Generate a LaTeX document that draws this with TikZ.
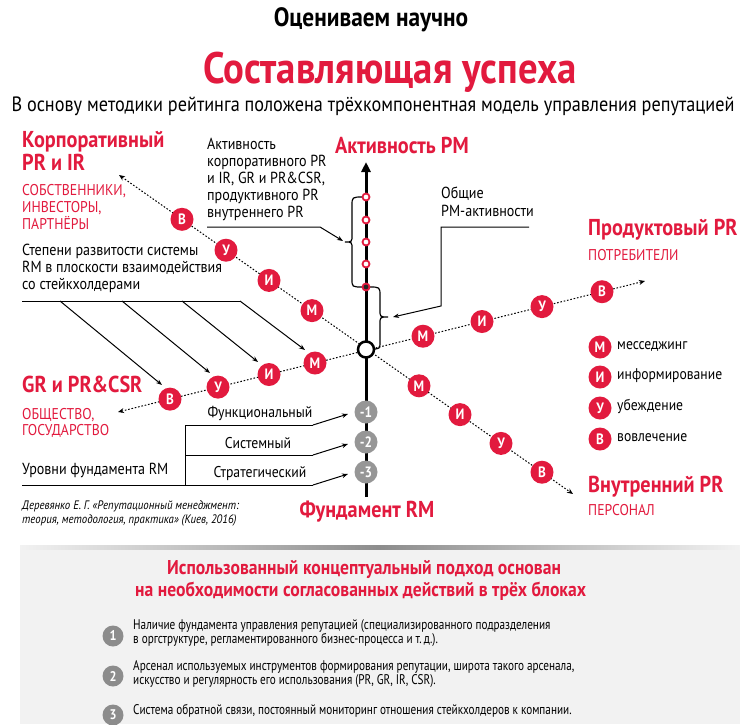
\documentclass[tikz,border=0pt]{standalone}
\usepackage{fontspec}
\setmainfont{PT Sans}[FakeStretch=0.88]
\newfontfamily\narrowfont{PT Sans}[FakeStretch=0.8]
\usetikzlibrary{arrows.meta}
\definecolor{myred}{RGB}{226,26,62}
\definecolor{mygray}{RGB}{150,150,150}
\definecolor{panelbg}{RGB}{242,242,242}
\definecolor{numgray}{RGB}{140,140,140}
\begin{document}
\begin{tikzpicture}[x=1pt,y=-1pt,
  lbl/.style={inner sep=0pt, anchor=mid west, font=\fontsize{16}{18}\selectfont},
  rhead/.style={inner sep=0pt, text=myred, font=\bfseries\fontsize{23}{24}\selectfont},
  rsub/.style={inner sep=0pt, anchor=mid west, text=myred, font=\fontsize{15.6}{18}\selectfont},
  mc/.style={circle, fill=myred, inner sep=0pt, minimum size=23pt, text=white, font=\bfseries\fontsize{15}{15}\selectfont},
  gc/.style={circle, fill=mygray, inner sep=0pt, minimum size=23pt, text=white, font=\bfseries\fontsize{15}{15}\selectfont},
  nc/.style={circle, fill=numgray, inner sep=0pt, minimum size=21pt, text=white, font=\bfseries\fontsize{14}{14}\selectfont},
  oc/.style={circle, draw=myred, line width=1.8pt, fill=white, inner sep=0pt, minimum size=7pt},
  dotl/.style={dash pattern=on 1.6pt off 1.8pt, line width=1pt, {Stealth[length=6pt,width=5pt]}-{Stealth[length=6pt,width=5pt]}},
  arr/.style={line width=1pt, -{Stealth[length=6pt,width=4.5pt]}},
  plainl/.style={line width=1pt},
  item/.style={inner sep=0pt, anchor=mid west, font=\narrowfont\fontsize{14}{14}\selectfont},
  legt/.style={inner sep=0pt, anchor=mid west, font=\fontsize{15.5}{17}\selectfont},
]
\useasboundingbox (0,0) rectangle (740,724);
\fill[white] (0,0) rectangle (740,724);

% titles
\node[inner sep=0pt, font=\bfseries\fontsize{26.5}{28}\selectfont] (t1) at (371,20) {Оцениваем научно};
\node[inner sep=0pt, text=myred, font=\bfseries\fontsize{44}{46}\selectfont] (t2) at (390,72) {Составляющая успеха};
\node[inner sep=0pt, font=\fontsize{20.7}{22}\selectfont] (t3) at (373,106) {В основу методики рейтинга положена трёхкомпонентная модель управления репутацией};

% dotted axes
\coordinate (ul) at (119,175); \coordinate (lr) at (573,494);
\coordinate (ll) at (118,412); \coordinate (ur) at (645,281);
\draw[dotl] (ul) -- (lr);
\draw[dotl] (ll) -- (ur);

% vertical axis
\coordinate (axb) at (366,497); \coordinate (axt) at (366,162);
\draw[line width=3pt, -{Triangle[length=10pt,width=9pt]}] (axb) -- (axt);

% braces
\draw[line width=1.2pt] (363,197) .. controls (352,197) .. (352,206) -- (352,235) .. controls (352,242) .. (345,242) .. controls (352,242) .. (352,249) -- (352,279) .. controls (352,287) .. (363,287);
\draw[line width=1.2pt] (369,287) .. controls (380,287) .. (380,296) -- (380,310) .. controls (380,317) .. (388,317) .. controls (380,317) .. (380,324) -- (380,341) .. controls (380,349) .. (371,349);

% activity circles
\foreach \yy [count=\i] in {197,220,242,264} \node[oc] (act-o\i) at (366,\yy) {};
\node[oc, fill=black!85] (act-f) at (366,287) {};
\node[circle, draw=black, line width=2.5pt, fill=white, inner sep=0pt, minimum size=16pt] (ctr) at (366,349.5) {};

% stage circles
\node[mc] (aV) at (182,219.3) {В};
\node[mc] (aU) at (226,250.2) {У};
\node[mc] (aI) at (269,280.4) {И};
\node[mc] (aM) at (312,310.6) {М};
\node[mc] (bM) at (419,385.8) {М};
\node[mc] (bI) at (460,414.6) {И};
\node[mc] (bU) at (501,443.4) {У};
\node[mc] (bV) at (542,472.2) {В};
\node[mc] (cV) at (170,399.1) {В};
\node[mc] (cU) at (218,387.1) {У};
\node[mc] (cI) at (269,374.5) {И};
\node[mc] (cM) at (315,363.0) {М};
\node[mc] (dM) at (423,336.2) {М};
\node[mc] (dI) at (482,321.5) {И};
\node[mc] (dU) at (542,306.6) {У};
\node[mc] (dV) at (602,291.7) {В};

% fundament circles
\node[gc] (g1) at (366,412) {-1};
\node[gc] (g2) at (366,442) {-2};
\node[gc] (g3) at (366,472) {-3};

% headings
\node[rhead, anchor=mid west] (hkorp1) at (22,145) {Корпоративный};
\node[rhead, anchor=mid west] (hkorp2) at (22,168) {PR и IR};
\foreach \t [count=\i] in {{СОБСТВЕННИКИ,},{ИНВЕСТОРЫ,},ПАРТНЁРЫ}
  \node[rsub] (skorp\i) at ({22},{193+(\i-1)*17}) {\t};
\node[rhead] (hact) at (402,145) {Активность РМ};
\node[rhead, anchor=mid west] (hprod) at (588,233) {Продуктовый PR};
\node[rsub] (sprod) at (588,258) {ПОТРЕБИТЕЛИ};
\node[rhead, anchor=mid west] (hgr) at (22,390) {GR и PR\&CSR};
\node[rsub] (sgr1) at (22,417) {ОБЩЕСТВО,};
\node[rsub] (sgr2) at (22,433) {ГОСУДАРСТВО};
\node[rhead] (hfund) at (367,512) {Фундамент RM};
\node[rhead, anchor=mid west] (hvn) at (588,490) {Внутренний PR};
\node[rsub] (svn) at (588,513) {ПЕРСОНАЛ};

% activity label
\foreach \t [count=\i] in {Активность, корпоративного PR, {и IR, GR и PR\&CSR,}, продуктивного PR, внутреннего PR}
  \node[lbl] (act\i) at ({207},{147+(\i-1)*17}) {\t};
\coordinate (actl) at (207,227); \coordinate (actk) at (320,227); \coordinate (lbtip) at (343,241);
\draw[arr] (actl) -- (actk) -- (lbtip);

% general activities
\node[lbl] (ob1) at (441,196) {Общие};
\node[lbl] (ob2) at (441,214) {РМ-активности};
\coordinate (obr) at (529,227); \coordinate (obk) at (441,227); \coordinate (obd) at (441,306); \coordinate (rbtip) at (393,317);
\draw[arr] (obr) -- (obk) -- (obd) -- (rbtip);

% stakeholder degrees
\foreach \t [count=\i] in {Степени развитости системы, RM в плоскости взаимодействия, со стейкхолдерами}
  \node[lbl] (st\i) at ({22},{253+(\i-1)*17}) {\t};
\coordinate (s0) at (22,301);
\coordinate (s1) at (60,301); \coordinate (s2) at (122,301); \coordinate (s3) at (182,301); \coordinate (s4) at (240,301);
\coordinate (t1) at (162,385); \coordinate (t2) at (210,373); \coordinate (t3) at (258,362); \coordinate (t4) at (305,350);
\draw[plainl] (s0) -- (s4);
\draw[arr] (s1) -- (t1);
\draw[arr] (s2) -- (t2);
\draw[arr] (s3) -- (t3);
\draw[arr] (s4) -- (t4);

% fundament levels
\node[lbl, anchor=center, font=\fontsize{15.6}{17}\selectfont] (lv1) at (260,413) {Функциональный};
\node[lbl, anchor=center, font=\fontsize{15.6}{17}\selectfont] (lv2) at (258,443) {Системный};
\node[lbl, anchor=center, font=\fontsize{15.6}{17}\selectfont] (lv3) at (260,473) {Стратегический};
\node[lbl] (lvl) at (22,472) {Уровни фундамента RM};
\coordinate (f0) at (22,485);
\coordinate (fv1) at (185,425); \coordinate (fv2) at (185,455); \coordinate (fv3) at (185,485);
\coordinate (fh1) at (313,425); \coordinate (fh2) at (313,455); \coordinate (fh3) at (313,485);
\coordinate (ft1) at (348,414); \coordinate (ft2) at (348,444); \coordinate (ft3) at (348,474);
\draw[plainl] (f0) -- (fh3);
\draw[plainl] (fv3) -- (fv1) -- (fh1);
\draw[plainl] (fv2) -- (fh2);
\draw[arr] (fh1) -- (ft1);
\draw[arr] (fh2) -- (ft2);
\draw[arr] (fh3) -- (ft3);

% citation
\node[inner sep=0pt, anchor=mid west, font=\itshape\fontsize{12.3}{14}\selectfont] (cit1) at (22,507) {Деревянко Е. Г. «Репутационный менеджмент:};
\node[inner sep=0pt, anchor=mid west, font=\itshape\fontsize{12.3}{14}\selectfont] (cit2) at (22,521) {теория, методология, практика» (Киев, 2016)};

% legend
\node[mc] (lgM) at (600,347) {М};
\node[mc] (lgI) at (600,377) {И};
\node[mc] (lgU) at (600,408) {У};
\node[mc] (lgV) at (600,439) {В};
\node[legt] (lgMt) at (617,347) {месседжинг};
\node[legt] (lgIt) at (617,377) {информирование};
\node[legt] (lgUt) at (617,408) {убеждение};
\node[legt] (lgVt) at (617,439) {вовлечение};

% bottom panel
\fill[panelbg] (20,548) rectangle (740,724);
\shade[left color=panelbg, right color=panelbg, middle color=black!45] (20,545) rectangle (740,549);
\node[inner sep=0pt, anchor=mid west, text=myred, font=\bfseries\fontsize{20}{22}\selectfont] (bh1) at (167,572) {Использованный концептуальный подход основан};
\node[inner sep=0pt, anchor=mid west, text=myred, font=\bfseries\fontsize{20}{22}\selectfont] (bh2) at (135,594) {на необходимости согласованных действий в трёх блоках};
\node[nc] (n1) at (113,636) {1};
\node[nc] (n2) at (113,676) {2};
\node[nc] (n3) at (113,715) {3};
\node[item] (i1a) at (133,627) {Наличие фундамента управления репутацией (специализированного подразделения};
\node[item] (i1b) at (133,641) {в оргструктуре, регламентированного бизнес-процесса и т.\,д.).};
\node[item] (i2a) at (133,668) {Арсенал используемых инструментов формирования репутации, широта такого арсенала,};
\node[item] (i2b) at (133,682) {искусство и регулярность его использования (PR, GR, IR, CSR).};
\node[item] (i3a) at (133,712) {Система обратной связи, постоянный мониторинг отношения стейкхолдеров к компании.};
\end{tikzpicture}
\end{document}
